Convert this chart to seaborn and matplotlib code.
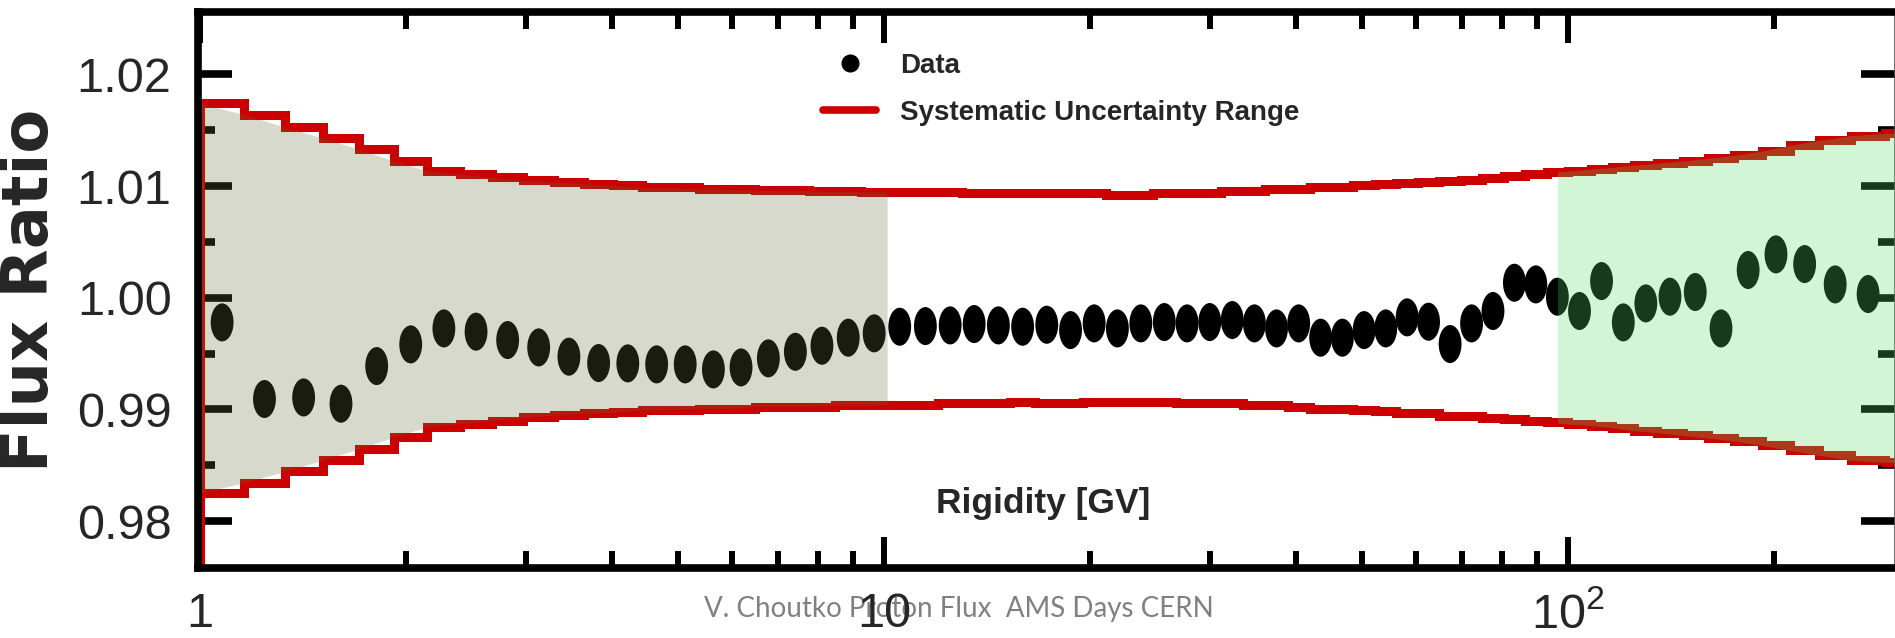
import numpy as np
import pandas as pd
import matplotlib
matplotlib.use("Agg")
import matplotlib.pyplot as plt
import seaborn as sns
from matplotlib.path import Path
from matplotlib.transforms import Affine2D
from matplotlib.lines import Line2D
from matplotlib import font_manager
from matplotlib.font_manager import FontProperties
from matplotlib.ticker import FixedLocator, FixedFormatter, NullFormatter

# ---------------- data ----------------
bin_edges = [1, 1.16, 1.33, 1.51, 1.71, 1.92, 2.15, 2.4, 2.67, 2.97, 3.29, 3.64, 4.02,
             4.43, 4.88, 5.37, 5.9, 6.47, 7.09, 7.76, 8.48, 9.26, 10.1, 11.0, 12.0, 13.0,
             14.1, 15.3, 16.6, 18.0, 19.5, 21.1, 22.8, 24.7, 26.7, 28.8, 31.1, 33.5, 36.1,
             38.9, 41.9, 45.1, 48.5, 52.2, 56.1, 60.3, 64.8, 69.7, 74.9, 80.5, 86.5, 93.0,
             100, 108, 116, 125, 135, 147, 160, 175, 192, 211, 233, 259, 291, 330]

rigidity = [1.077, 1.242, 1.417, 1.607, 1.812, 2.032, 2.272, 2.532, 2.816, 3.126, 3.461,
            3.825, 4.220, 4.650, 5.119, 5.629, 6.178, 6.773, 7.418, 8.112, 8.862, 9.671,
            10.54, 11.49, 12.49, 13.54, 14.69, 15.94, 17.29, 18.73, 20.28, 21.93, 23.73,
            25.68, 27.73, 29.93, 32.28, 34.78, 37.47, 40.37, 43.47, 46.77, 50.32, 54.12,
            58.16, 62.51, 67.21, 72.25, 77.65, 83.45, 89.69, 96.44, 103.9, 111.9, 120.4,
            129.9, 140.9, 153.4, 167.3, 183.3, 201.3, 221.7, 245.7, 274.5]

flux_ratio = [0.99779, 0.99093, 0.99107, 0.99051, 0.99388, 0.99582, 0.99725, 0.99696,
              0.99621, 0.99555, 0.99472, 0.99415, 0.99412, 0.99403, 0.99403, 0.99358,
              0.99376, 0.99457, 0.99516, 0.99570, 0.99642, 0.99681, 0.99740, 0.99746,
              0.99752, 0.99764, 0.99752, 0.99740, 0.99758, 0.99710, 0.99770, 0.99725,
              0.99770, 0.99782, 0.99770, 0.99782, 0.99800, 0.99770, 0.99725, 0.99770,
              0.99642, 0.99642, 0.99710, 0.99725, 0.99824, 0.99785, 0.99585, 0.99770,
              0.99881, 1.00134, 1.00119, 1.00009, 0.99881, 1.00149, 0.99779, 0.99949,
              1.00009, 1.00051, 0.99725, 1.00248, 1.00388, 1.00301, 1.00119, 1.00033]

sys_upper = [1.01740, 1.01639, 1.01528, 1.01430, 1.01328, 1.01224, 1.01137, 1.01107,
             1.01078, 1.01054, 1.01039, 1.01021, 1.01005, 1.00990, 1.00988, 1.00975,
             1.00972, 1.00962, 1.00960, 1.00958, 1.00952, 1.00950, 1.00948, 1.00946,
             1.00944, 1.00940, 1.00940, 1.00938, 1.00940, 1.00940, 1.00938, 1.00922,
             1.00922, 1.00935, 1.00938, 1.00940, 1.00955, 1.00958, 1.00970, 1.00975,
             1.00990, 1.00995, 1.01010, 1.01015, 1.01028, 1.01035, 1.01045, 1.01054,
             1.01069, 1.01090, 1.01104, 1.01122, 1.01134, 1.01152, 1.01167, 1.01188,
             1.01203, 1.01224, 1.01248, 1.01275, 1.01313, 1.01364, 1.01409, 1.01451,
             1.01472]

sys_lower = [0.98254, 0.98343, 0.98445, 0.98543, 0.98648, 0.98752, 0.98845, 0.98872,
             0.98899, 0.98928, 0.98946, 0.98965, 0.98975, 0.98995, 0.98995, 0.99008,
             0.99008, 0.99025, 0.99025, 0.99025, 0.99038, 0.99038, 0.99042, 0.99042,
             0.99055, 0.99055, 0.99055, 0.99068, 0.99055, 0.99055, 0.99068, 0.99070,
             0.99070, 0.99068, 0.99055, 0.99055, 0.99055, 0.99040, 0.99040, 0.99025,
             0.99005, 0.99000, 0.98995, 0.98990, 0.98970, 0.98965, 0.98945, 0.98940,
             0.98925, 0.98913, 0.98899, 0.98884, 0.98869, 0.98854, 0.98836, 0.98809,
             0.98791, 0.98767, 0.98743, 0.98716, 0.98678, 0.98633, 0.98588, 0.98543,
             0.98525]

x_ticks = [1, 10, 100]
x_tick_labels = ["1", "10", r"$\mathregular{10^2}$"]
x_minor_ticks = [2, 3, 4, 5, 6, 7, 8, 9, 20, 30, 40, 50, 60, 70, 80, 90, 200]
y_ticks = [0.98, 0.99, 1.00, 1.01, 1.02]
y_tick_labels = ["0.98", "0.99", "1.00", "1.01", "1.02"]
y_minor_ticks = [0.985, 0.995, 1.005, 1.015]
low_band = (1.0, 10.1)
high_band = (96.5, 300.0)
x_range = (0.993, 300.0)
y_range = (0.97580, 1.02558)
hist_baseline = 0.9

legend_labels = ["Data", "Systematic Uncertainty Range"]
x_title = "Rigidity [GV]"
y_title = "Flux Ratio"
footer = "V. Choutko Proton Flux  AMS Days CERN"

# ---------------- style ----------------
sns.set_style("white")
names = {f.name for f in font_manager.fontManager.ttflist}
BASE = "Liberation Sans"
NARROW = "Liberation Sans Narrow" if "Liberation Sans Narrow" in names else None
plt.rcParams["font.family"] = [BASE, "DejaVu Sans"]
plt.rcParams["mathtext.fontset"] = "custom"
plt.rcParams["mathtext.rm"] = BASE

RED = "#cc0000"
W, H = 1895, 638
fig = plt.figure(figsize=(W / 100, H / 100), dpi=100)
ax = fig.add_axes([198 / W, 1 - 568 / H, (1894.5 - 198) / W, (568 - 12) / H])

# ellipse marker (taller than wide)
ellipse = Path.unit_circle().transformed(Affine2D().scale(0.6, 1.0))

# data points
df_pts = pd.DataFrame({"rigidity": rigidity, "ratio": flux_ratio})
sns.scatterplot(data=df_pts, x="rigidity", y="ratio", ax=ax, marker=ellipse,
                s=27.4 ** 2, color="black", edgecolor="none", linewidth=0, zorder=2)

# systematic range step lines (histogram style with baseline at x=1)
for vals in (sys_upper, sys_lower):
    xs = [bin_edges[0]] + list(bin_edges)
    ys = [hist_baseline] + list(vals) + [vals[-1]]
    df_l = pd.DataFrame({"x": xs, "y": ys})
    sns.lineplot(data=df_l, x="x", y="y", ax=ax, estimator=None, sort=False,
                 drawstyle="steps-post", color=RED, linewidth=6.5,
                 solid_joinstyle="miter", solid_capstyle="butt", zorder=2)

# shaded bands (overlay on top)
def band(lo, hi, vals):
    e = np.asarray(bin_edges, dtype=float)
    v = np.append(np.asarray(vals, dtype=float), vals[-1])
    xs = e[(e > lo) & (e < hi)]
    xs = np.concatenate([[lo], xs, [hi]])
    return xs, np.interp(np.log10(xs), np.log10(e), v)

for (lo, hi), col, alpha in ((low_band, "#646e3c", 0.26), (high_band, "#57db62", 0.265)):
    xs, up = band(lo, hi, sys_upper)
    _, dn = band(lo, hi, sys_lower)
    ax.fill_between(xs, dn, up, color=col, alpha=alpha, linewidth=0, zorder=3)

# axes
ax.set_xscale("log")
ax.set_xlim(*x_range)
ax.set_ylim(*y_range)
ax.set_xlabel("")
ax.set_ylabel("")
ax.xaxis.set_major_locator(FixedLocator(x_ticks))
ax.xaxis.set_major_formatter(FixedFormatter(x_tick_labels))
ax.xaxis.set_minor_locator(FixedLocator(x_minor_ticks))
ax.xaxis.set_minor_formatter(NullFormatter())
ax.yaxis.set_major_locator(FixedLocator(y_ticks))
ax.yaxis.set_major_formatter(FixedFormatter(y_tick_labels))
ax.yaxis.set_minor_locator(FixedLocator(y_minor_ticks))
ax.yaxis.set_minor_formatter(NullFormatter())

ax.tick_params(which="both", direction="in", top=True, right=True, bottom=True, left=True,
               color="black")
ax.tick_params(axis="y", which="major", length=24.5, width=5.5, labelsize=35, pad=19)
ax.tick_params(axis="y", which="minor", length=12.5, width=5.5)
ax.tick_params(axis="x", which="major", length=22, width=4.3, labelsize=35, pad=17)
ax.tick_params(axis="x", which="minor", length=12.5, width=4.3)

for side in ("left", "top", "bottom"):
    ax.spines[side].set_linewidth(5.5)
    ax.spines[side].set_color("black")
    ax.spines[side].set_zorder(4)
ax.spines["right"].set_linewidth(1.2)
ax.spines["right"].set_color("#555555")

# legend
leg_family = NARROW if NARROW else BASE
leg_fs = 22 if NARROW else 20
fs_px = leg_fs * 100 / 72
h_data = Line2D([], [], linestyle="none", marker="o", markersize=12, color="black")
h_sys = Line2D([], [], color=RED, linewidth=5.5)
ax.legend([h_data, h_sys], legend_labels, loc="upper left",
          bbox_to_anchor=(823 / W, 1 - 53 / H), bbox_transform=fig.transFigure,
          frameon=False, prop=FontProperties(family=leg_family, weight="bold", size=leg_fs),
          handlelength=53 / fs_px, handletextpad=24 / fs_px, labelspacing=0.75,
          borderpad=0, borderaxespad=0)

# titles and footer
fig.text(1043 / W, 1 - 513 / H, x_title, ha="center", va="baseline",
         fontsize=(28 if NARROW else 25.5), fontweight="bold", family=leg_family)
fig.text(30 / W, 1 - 290 / H, y_title, rotation=90, ha="center", va="center",
         fontsize=46, fontweight="bold", family="DejaVu Sans")
fig.text(959 / W, 1 - 617 / H, footer, ha="center", va="baseline", color="#808080",
         fontsize=20, family="Lato", zorder=-1)

fig.savefig("out.png", dpi=100)
